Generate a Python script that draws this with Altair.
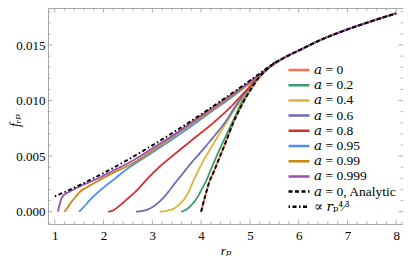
import altair as alt
import pandas as pd

# ---- values (f in units of 1e-3) ----
r_a0 = [4.0, 4.08, 4.17, 4.25, 4.38, 4.5, 4.65, 4.8, 4.92, 5.05, 5.19, 5.3, 5.45, 5.7, 6.0, 6.5, 7.0, 7.5, 8.0]
f_a0 = [0.0, 1.35, 2.7, 3.5, 4.9, 6.2, 7.9, 9.3, 10.3, 11.2, 12.1, 12.6, 13.2, 13.85, 14.5, 15.55, 16.4, 17.15, 17.85]

r_a02 = [3.59, 3.7, 3.8, 3.91, 4.0, 4.11, 4.25, 4.4, 4.55, 4.7, 4.85, 5.0, 5.15, 5.3, 5.45, 5.7, 6.0, 6.5, 7.0, 7.5, 8.0]
f_a02 = [0.0, 0.2, 0.6, 1.2, 1.9, 2.85, 4.3, 5.8, 7.2, 8.6, 10.0, 11.0, 11.9, 12.6, 13.2, 13.85, 14.5, 15.55, 16.4, 17.15, 17.85]

r_a04 = [3.15, 3.3, 3.45, 3.575, 3.68, 3.745, 3.845, 4.0, 4.25, 4.5, 4.75, 5.0, 5.25, 5.45, 5.7, 6.0, 6.5, 7.0, 7.5, 8.0]
f_a04 = [0.0, 0.08, 0.3, 0.75, 1.3, 1.8, 2.8, 4.2, 6.1, 7.9, 9.6, 11.1, 12.35, 13.2, 13.85, 14.5, 15.55, 16.4, 17.15, 17.85]

r_a06 = [2.665, 2.8, 2.905, 3.05, 3.17, 3.34, 3.47, 3.6, 3.8, 4.0, 4.25, 4.5, 4.75, 5.0, 5.25, 5.45, 5.7, 6.0, 6.5, 7.0, 7.5, 8.0]
f_a06 = [0.0, 0.07, 0.2, 0.55, 1.0, 1.85, 2.6, 3.3, 4.4, 5.4, 6.7, 8.1, 9.8, 11.2, 12.4, 13.2, 13.85, 14.5, 15.55, 16.4, 17.15, 17.85]

r_a08 = [2.094, 2.2, 2.33, 2.5, 2.7, 2.865, 3.1, 3.435, 3.8, 4.25, 4.6, 4.92, 5.2, 5.45, 5.7, 6.0, 6.5, 7.0, 7.5, 8.0]
f_a08 = [0.0, 0.12, 0.55, 1.2, 2.0, 2.8, 3.85, 5.1, 6.4, 8.0, 9.4, 10.9, 12.2, 13.15, 13.85, 14.5, 15.55, 16.4, 17.15, 17.85]

r_a095 = [1.497, 1.6, 1.72, 1.9, 2.195, 2.5, 2.865, 3.435, 3.8, 4.25, 4.6, 4.92, 5.2, 5.45, 5.7, 6.0, 6.5, 7.0, 7.5, 8.0]
f_a095 = [0.0, 0.45, 1.05, 1.8, 2.85, 3.9, 4.94, 6.59, 7.7, 9.13, 10.2, 11.3, 12.3, 13.15, 13.85, 14.5, 15.55, 16.4, 17.15, 17.85]

r_a099 = [1.2, 1.25, 1.32, 1.42, 1.52, 1.7, 1.86, 2.2, 2.53, 3.0, 3.435, 4.0, 4.5, 5.0, 5.45, 5.7, 6.0, 6.5, 7.0, 7.5, 8.0]
f_a099 = [0.0, 0.3, 0.75, 1.3, 1.8, 2.3, 2.7, 3.5, 4.2, 5.5, 6.8, 8.5, 10.0, 11.6, 13.15, 13.85, 14.5, 15.55, 16.4, 17.15, 17.85]

r_a0999 = [1.064, 1.09, 1.12, 1.16, 1.22, 1.32, 1.5, 1.86, 2.2, 2.6, 3.0, 3.5, 4.0, 4.5, 5.0, 5.45, 5.7, 6.0, 6.5, 7.0, 7.5, 8.0]
f_a0999 = [0.0, 0.5, 1.0, 1.37, 1.6, 1.85, 2.25, 2.95, 3.7, 4.6, 5.7, 7.1, 8.65, 10.15, 11.7, 13.15, 13.85, 14.5, 15.55, 16.4, 17.15, 17.85]

r_an = r_a0
f_an = f_a0

r_pow = [1.0, 1.25, 1.5, 1.75, 2.0, 2.5, 3.0, 3.5, 4.0, 4.5, 5.0, 5.5]
f_pow = [1.38, 1.86, 2.37, 2.91, 3.48, 4.68, 5.97, 7.33, 8.76, 10.26, 11.80, 13.4]

labels = ["𝑎 = 0", "𝑎 = 0.2", "𝑎 = 0.4", "𝑎 = 0.6", "𝑎 = 0.8", "𝑎 = 0.95",
          "𝑎 = 0.99", "𝑎 = 0.999", "𝑎 = 0, Analytic", "∝ 𝑟ₚ⁴⁄³"]
colors = ["#FF6E48", "#3A9B6E", "#DDB43A", "#6B6BB8", "#D03030", "#4D8EF5",
          "#C8860E", "#9C4FB8", "#000000", "#000000"]
dashes = [[1, 0]] * 8 + [[4, 2.5], [1.5, 2.5, 4, 2.5]]

x_major = [1, 2, 3, 4, 5, 6, 7, 8]
x_minor = [round(1 + 0.2 * i, 1) for i in range(36) if i % 5 != 0]
y_major = [0.0, 0.005, 0.010, 0.015]
y_minor = [round(0.001 * i, 3) for i in range(-1, 19) if i % 5 != 0]

series = [(r_a0, f_a0), (r_a02, f_a02), (r_a04, f_a04), (r_a06, f_a06), (r_a08, f_a08),
          (r_a095, f_a095), (r_a099, f_a099), (r_a0999, f_a0999), (r_an, f_an), (r_pow, f_pow)]

W, H = 355, 216
FONT = "Liberation Serif, Times New Roman, Times, DejaVu Serif, serif"

xscale = alt.Scale(domain=[0.86, 8.14], nice=False, zero=False)
yscale = alt.Scale(domain=[-0.00111, 0.01833], nice=False, zero=False)
cscale = alt.Scale(domain=labels, range=colors)
dscale = alt.Scale(domain=labels, range=dashes)

legend = alt.Legend(orient="none", legendX=239, legendY=55, title=None,
                    symbolType="stroke", symbolSize=441, symbolStrokeWidth=2.5,
                    labelFont=FONT, labelFontSize=13.5, labelColor="black",
                    labelOffset=3, rowPadding=1.2, clipHeight=14, padding=0)

layers = []
for i, (rr, ff) in enumerate(series):
    df = pd.DataFrame({"rp": rr, "f": [v * 1e-3 for v in ff], "series": labels[i]})
    enc = dict(
        x=alt.X("rp:Q", scale=xscale,
                axis=alt.Axis(values=x_major, format="d", title="rₚ", grid=False,
                              ticks=False, domain=False, labelFont=FONT, labelFontSize=13,
                              labelColor="black", labelPadding=5, titleFont=FONT,
                              titleFontSize=13.5, titleFontStyle="italic",
                              titleFontWeight="normal", titlePadding=1)),
        y=alt.Y("f:Q", scale=yscale,
                axis=alt.Axis(values=y_major, format=".3f", title="fᵣₚ", grid=False,
                              ticks=False, domain=False, labelFont=FONT, labelFontSize=13,
                              labelColor="black", labelPadding=3, titleFont=FONT,
                              titleFontSize=14, titleFontStyle="italic",
                              titleFontWeight="normal", titleX=-33, titleY=112,
                              titleAngle=270, titleBaseline="middle")),
        color=alt.Color("series:N", scale=cscale, legend=legend),
        strokeDash=alt.StrokeDash("series:N", scale=dscale, legend=legend),
    )
    sw = 1.8 if i < 8 else 1.9
    layers.append(alt.Chart(df).mark_line(strokeWidth=sw, clip=True,
                                          interpolate="monotone").encode(**enc))

tick_color = "#9a9a9a"
xmaj = pd.DataFrame({"rp": x_major})
xmin = pd.DataFrame({"rp": x_minor})
ymaj = pd.DataFrame({"f": y_major})
ymin = pd.DataFrame({"f": y_minor})

def xt(df, length, top):
    if top:
        return alt.Chart(df).mark_rule(color=tick_color, strokeWidth=0.8).encode(
            x=alt.X("rp:Q", scale=xscale), y=alt.value(0), y2=alt.value(length))
    return alt.Chart(df).mark_rule(color=tick_color, strokeWidth=0.8).encode(
        x=alt.X("rp:Q", scale=xscale), y=alt.value(H), y2=alt.value(H - length))

def yt(df, length, right):
    if right:
        return alt.Chart(df).mark_rule(color=tick_color, strokeWidth=0.8).encode(
            y=alt.Y("f:Q", scale=yscale), x=alt.value(W), x2=alt.value(W - length))
    return alt.Chart(df).mark_rule(color=tick_color, strokeWidth=0.8).encode(
        y=alt.Y("f:Q", scale=yscale), x=alt.value(0), x2=alt.value(length))

ticks = [xt(xmaj, 4.5, False), xt(xmin, 2.5, False), xt(xmaj, 4.5, True), xt(xmin, 2.5, True),
         yt(ymaj, 4.5, False), yt(ymin, 2.5, False), yt(ymaj, 4.5, True), yt(ymin, 2.5, True)]

chart = alt.layer(*ticks, *layers).properties(
    width=W, height=H,
    autosize=alt.AutoSizeParams(type="none"),
    padding={"left": 40, "top": 0, "right": 0, "bottom": 34},
).configure_view(stroke="#a8a8a8", strokeWidth=1)

chart.save("out.html", embed_options={"renderer": "svg", "actions": False})
